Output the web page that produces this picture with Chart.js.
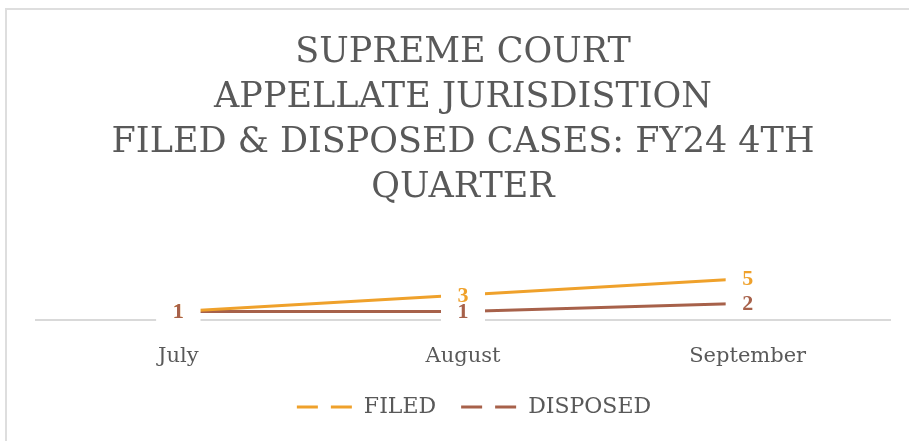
<!DOCTYPE html>
<html lang="en">
<head>
    <meta charset="UTF-8">
    <title>Supreme Court Appellate Jurisdiction</title>
    <script src="https://cdn.jsdelivr.net/npm/chart.js"></script>
    <style>
        body { margin: 0; background: #fff; overflow: hidden; }
        #frame { position: absolute; left: 5px; top: 8px; width: 904px; height: 433px; border-top: 2px solid #dedede; border-left: 2px solid #dedede; box-sizing: border-box; }
        #chart { position: absolute; left: 0; top: 0; }
    </style>
</head>
<body>
    <div id="frame"></div>
    <canvas id="chart" width="909" height="441"></canvas>

    <script>
        // data
        const months = ['July', 'August', 'September'];
        const filed = [1, 3, 5];
        const disposed = [1, 1, 2];
        const titleLines = ['SUPREME COURT', 'APPELLATE JURISDISTION', 'FILED & DISPOSED CASES: FY24 4TH', 'QUARTER'];

        const serif = "'DejaVu Serif', 'Liberation Serif', serif";
        const grey = '#595959';

        // value labels with white boxes
        const valueLabels = {
            id: 'valueLabels',
            afterDatasetsDraw(chart) {
                const ctx = chart.ctx;
                ctx.save();
                ctx.font = "bold 22px 'Liberation Serif', serif";
                ctx.textAlign = 'center';
                ctx.textBaseline = 'middle';
                chart.data.datasets.forEach((ds, i) => {
                    const meta = chart.getDatasetMeta(i);
                    meta.data.forEach((pt, j) => {
                        ctx.fillStyle = '#fff';
                        ctx.fillRect(pt.x - 22, pt.y - 11, 44, 22);
                    });
                });
                chart.data.datasets.forEach((ds, i) => {
                    const meta = chart.getDatasetMeta(i);
                    meta.data.forEach((pt, j) => {
                        ctx.fillStyle = ds.borderColor;
                        ctx.fillText(ds.data[j], pt.x, pt.y + 1);
                    });
                });
                ctx.restore();
            }
        };

        new Chart(document.getElementById('chart'), {
            type: 'line',
            data: {
                labels: months,
                datasets: [{
                    label: 'FILED',
                    data: filed,
                    borderColor: '#EFA12B',
                    backgroundColor: '#EFA12B',
                    borderWidth: 3,
                    pointRadius: 0,
                    tension: 0
                }, {
                    label: 'DISPOSED',
                    data: disposed,
                    borderColor: '#A7614A',
                    backgroundColor: '#A7614A',
                    borderWidth: 3,
                    pointRadius: 0,
                    tension: 0
                }]
            },
            options: {
                responsive: false,
                animation: false,
                layout: { padding: { left: 36, right: 19, top: 0, bottom: 13 } },
                plugins: {
                    title: {
                        display: true,
                        text: titleLines,
                        color: grey,
                        font: { family: serif, size: 35, weight: 'normal', lineHeight: '45px' },
                        padding: { top: 30, bottom: 27 }
                    },
                    legend: {
                        position: 'bottom',
                        labels: {
                            usePointStyle: true,
                            pointStyle: 'line',
                            pointStyleWidth: 78,
                            boxHeight: 3,
                            color: grey,
                            font: { family: serif, size: 22 },
                            padding: 3,
                            generateLabels(chart) {
                                // dash pattern starts with a 22px gap so the items sit apart
                                return chart.data.datasets.map((ds, i) => ({
                                    text: ds.label,
                                    strokeStyle: ds.borderColor,
                                    fillStyle: ds.borderColor,
                                    lineWidth: 3,
                                    lineDash: [21, 13, 21, 22],
                                    lineDashOffset: 55,
                                    lineCap: 'butt',
                                    pointStyle: 'line',
                                    fontColor: grey,
                                    datasetIndex: i
                                }));
                            }
                        }
                    },
                    tooltip: { enabled: false }
                },
                scales: {
                    x: {
                        offset: true,
                        grid: { display: false, drawTicks: false },
                        border: { display: true, color: '#d9d9d9', width: 2 },
                        ticks: { color: grey, font: { family: serif, size: 21 }, padding: 24 }
                    },
                    y: {
                        display: false,
                        min: 0,
                        max: 10
                    }
                }
            },
            plugins: [valueLabels]
        });
    </script>
</body>
</html>
